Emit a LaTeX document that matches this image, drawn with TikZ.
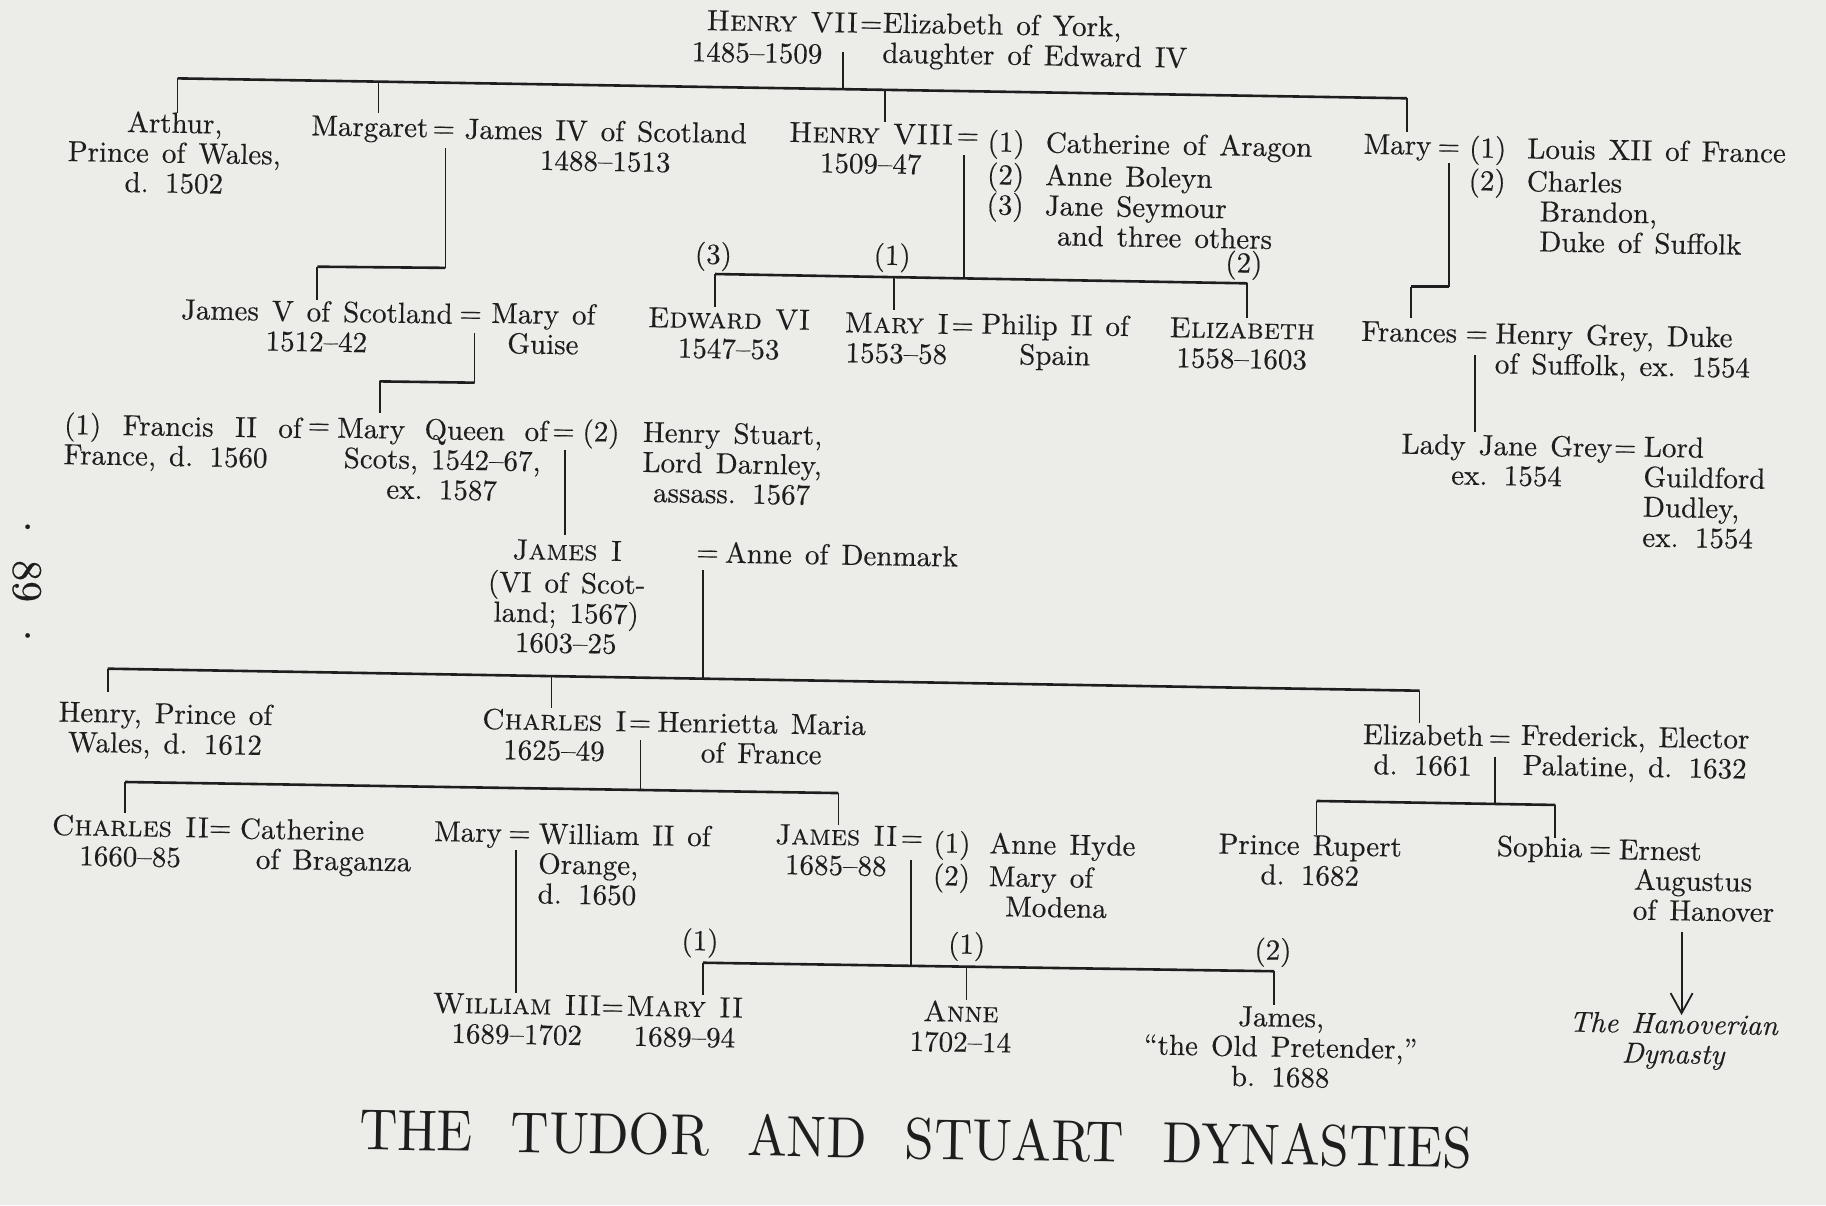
\documentclass[tikz,border=0pt]{standalone}
\usepackage{graphicx}
\usepackage{fontspec}
\setmainfont{lmroman10}[Extension=.otf, UprightFont=*-regular, ItalicFont=*-italic, SmallCapsFont=lmromancaps10-regular, FakeBold=0.35]
\newfontfamily\titlefont{lmroman10-regular}[Extension=.otf]
\usetikzlibrary{arrows.meta}
\definecolor{ink}{RGB}{30,30,30}
\definecolor{paper}{RGB}{236,236,233}
\newcommand\treefont{\fontsize{14.5}{15}\selectfont\spaceskip=0.45em plus 0.15em minus 0.1em\relax}
\newcommand\wnum[1]{\makebox[29.1pt][l]{#1}}
\newcommand\wnumb[1]{\makebox[28pt][l]{#1}}
\newcommand\jw[2]{\makebox[#1][s]{#2}}
\tikzset{
  txtbase/.style={inner sep=0pt, outer sep=0pt, font=\treefont, text=ink, rotate=-0.95},
  pc/.style={txtbase, anchor=north, align=center, yshift=10.5pt},
  pl/.style={txtbase, anchor=north west, align=left, yshift=10.5pt},
  sb/.style={txtbase, anchor=base},
  sr/.style={txtbase, anchor=base east},
  sl/.style={txtbase, anchor=base west},
  barline/.style={draw=ink, line width=1.3pt},
  vline/.style={draw=ink, line width=0.9pt},
}
\begin{document}
\begin{tikzpicture}[x=0.5822pt, y=-0.5822pt]
\fill[paper] (0,0) rectangle (1568,1034.76);
\useasboundingbox (0,0) rectangle (1568,1034.76);

% ---------------- Row 0
\node[sr] (h7) at (737,28) {\textsc{Henry VII}};
\node[sb] (eq0) at (748,28) {=};
\node[pl] (eoy) at (758,28) {\strut Elizabeth of York,\\daughter of Edward IV};
\node[sr] (h7d) at (706,54.5) {1485–1509};

% ---------------- Row 1
\node[pc] (arthur) at (150,114) {\strut Arthur,\\Prince of Wales,\\d. 1502};
\node[sb] (margaret) at (317.5,117) {Margaret};
\node[sb] (eq1) at (381,118) {=};
\node[pc] (james4) at (520,121) {\strut James IV of Scotland\\1488–1513};
\node[pc] (henry8) at (748,123) {\strut\textsc{Henry VIII}\\1509–47};
\node[sb] (eq2) at (831,124) {=};
\node[pl] (wives8) at (848,129.4) {\strut\wnum{(1)}Catherine of Aragon\\\wnum{(2)}Anne Boleyn\\\wnum{(3)}Jane Seymour\\\hspace*{35.5pt}and three others};
\node[sb] (maryT) at (1200,132.5) {Mary};
\node[sb] (eq3) at (1244,133.5) {=};
\node[pl] (husbM) at (1261.5,134.5) {\strut\wnum{(1)}Louis XII of France\\\wnum{(2)}Charles\\\hspace*{35.8pt}Brandon,\\\hspace*{35.8pt}Duke of Suffolk};
\node[sb] (l3) at (612.5,226.5) {(3)};
\node[sb] (l1) at (766,227.5) {(1)};
\node[sb] (l2) at (1068,234) {(2)};

% ---------------- Row 2
\node[pc] (james5) at (272,276) {\strut James V of Scotland\\1512–42};
\node[sb] (eq4) at (404,277) {=};
\node[pc] (guise) at (466.5,278) {\strut Mary of\\Guise};
\node[pc] (edward) at (626,282) {\strut\textsc{Edward VI}\\1547–53};
\node[pc] (mary1) at (770,286) {\strut\textsc{Mary I}\\1553–58};
\node[sb] (eq5) at (826.5,287) {=};
\node[pc] (philip) at (906,287.5) {\strut Philip II of\\Spain};
\node[pc] (eliz1) at (1066.5,290.5) {\strut\textsc{Elizabeth}\\1558–1603};
\node[sb] (frances) at (1210,293.4) {Frances};
\node[sb] (eq6) at (1268,294) {=};
\node[pl] (hgrey) at (1284,294.8) {\strut Henry Grey, Duke\\of Suffolk, ex. 1554};

% ---------------- Row 3
\node[pl] (francis) at (55,372.1) {\strut\jw{118.8pt}{(1) Francis II of}\\France, d. 1560};
\node[sb] (eq7) at (273.8,373) {=};
\node[pc] (maryqs) at (380,377.3) {\strut\jw{105.4pt}{Mary Queen of}\\Scots, 1542–67,\\ex. 1587};
\node[sb] (eq8) at (483.8,378) {=};
\node[sb] (l2d) at (516,379) {(2)};
\node[pc] (darnley) at (629,380.7) {\strut Henry Stuart,\\Lord Darnley,\\assass. 1567};
\node[pc] (ladyjane) at (1294,391) {\strut Lady Jane Grey\\ex. 1554};
\node[sb] (eq9) at (1395.5,392) {=};
\node[pl] (dudley) at (1411.5,392.1) {\strut Lord\\Guildford\\Dudley,\\ex. 1554};

% ---------------- Row 4
\node[pc] (james1) at (487,480.9) {\strut\textsc{James I}\\(VI of Scot-\\land; 1567)\\1603–25};
\node[sb] (eq10) at (607.5,482) {=};
\node[sl] (anneD) at (622.5,483.2) {Anne of Denmark};

% ---------------- Row 5
\node[pc] (henryPW) at (142,621.1) {\strut Henry, Prince of\\Wales, d. 1612};
\node[pc] (charles1) at (476,626.9) {\strut\textsc{Charles I}\\1625–49};
\node[sb] (eq11) at (549.5,628) {=};
\node[pc] (henrietta) at (654,629.7) {\strut Henrietta Maria\\of France};
\node[pc] (elizF) at (1222,639.7) {\strut Elizabeth\\d. 1661};
\node[sb] (eq12) at (1287.8,641) {=};
\node[pc] (frederick) at (1404,641.2) {\strut Frederick, Elector\\Palatine, d. 1632};

% ---------------- Row 6
\node[pc] (charles2) at (112,718) {\strut\textsc{Charles II}\\1660–85};
\node[sb] (eq13) at (189,718.5) {=};
\node[pl] (catherine) at (206,720) {\strut Catherine\\\hspace*{8.2pt}of Braganza};
\node[sb] (maryO) at (401.8,722.7) {Mary};
\node[sb] (eq14) at (446,723) {=};
\node[pl] (william2) at (462.5,724.2) {\strut William II of\\Orange,\\d. 1650};
\node[pc] (james2) at (718,725.6) {\strut\textsc{James II}\\1685–88};
\node[sb] (eq15) at (783,727) {=};
\node[pl] (wivesJ2) at (801.5,731.3) {\strut\wnumb{(1)}Anne Hyde\\\wnumb{(2)}Mary of\\\hspace*{36.4pt}Modena};
\node[pc] (rupert) at (1125,734.2) {\strut Prince Rupert\\d. 1682};
\node[sb] (sophia) at (1322,735.6) {Sophia};
\node[sb] (eq16) at (1374,736.5) {=};
\node[pl] (ernest) at (1390,737.9) {\strut Ernest\\\hspace*{7.9pt}Augustus\\\hspace*{7.5pt}of Hanover};
\node[sb] (l1a) at (601,816) {(1)};
\node[sb] (l1b) at (830,819) {(1)};
\node[sb] (l2b) at (1093,824) {(2)};

% ---------------- Row 7
\node[pc] (william3) at (444,870.7) {\strut\textsc{William III}\\1689–1702};
\node[sb] (eq17) at (526,872) {=};
\node[pc] (mary2) at (588,873) {\strut\textsc{Mary II}\\1689–94};
\node[pc] (anne) at (825,877.3) {\strut\textsc{Anne}\\1702–14};
\node[pc] (jamesOP) at (1100,881.6) {\strut James,\\“the Old Pretender,”\\b. 1688};
\node[pc, font=\treefont\itshape] (hanover) at (1437,887.3) {\strut The Hanoverian\\Dynasty};

% ---------------- Title and page number
\node[anchor=base, inner sep=0pt, text=ink, rotate=-0.95] (title) at (786,995)
  {\scalebox{0.91}[1]{\titlefont\fontsize{29}{29}\selectfont THE\hspace{21pt}TUDOR\hspace{21pt}AND\hspace{21pt}STUART\hspace{21pt}DYNASTIES}};
\node[inner sep=0pt, text=ink, rotate=-90, font=\fontsize{21}{21}\selectfont] (pnum) at (23,499) {·\hspace{8.5pt}89\hspace{8.5pt}·};

% ---------------- Connector points
\coordinate (h7a) at (723.6,44.4);
\coordinate (h7b) at (723.6,76.5);
\coordinate (b1L) at (152.5,67.3);
\coordinate (b1R) at (1208,84.4);
\coordinate (tArA) at (152.5,97.3);
\coordinate (tMgA) at (325,70.1);   \coordinate (tMgB) at (325,97.3);
\coordinate (tH8A) at (760,77.1);   \coordinate (tH8B) at (760,104.5);
\coordinate (tMtB) at (1208,113);
\coordinate (mg1) at (382.5,127.4); \coordinate (mg2) at (382.5,230);
\coordinate (mg3) at (272.5,229);   \coordinate (mg4) at (272.5,257.6);
\coordinate (h8a) at (828,133.1);   \coordinate (h8b) at (828,239);
\coordinate (b2L) at (614,235.3);   \coordinate (b2R) at (1071,243.3);
\coordinate (tEdB) at (614,263.3);
\coordinate (tM1A) at (767.5,238);  \coordinate (tM1B) at (767.5,266.2);
\coordinate (tElB) at (1071,273.4);
\coordinate (mt1) at (1244,140.3);  \coordinate (mt2) at (1244,246.2);
\coordinate (mt3) at (1211.5,246.2);\coordinate (mt4) at (1211.5,273.4);
\coordinate (jv1) at (407.5,286.2); \coordinate (jv2) at (407.5,328.6);
\coordinate (jv3) at (326,327.5);   \coordinate (jv4) at (326,355);
\coordinate (fr1) at (1266.5,304.9);\coordinate (fr2) at (1266.5,370.7);
\coordinate (qd1) at (485,386.4);   \coordinate (qd2) at (485,459.4);
\coordinate (ja1) at (604,489.5);   \coordinate (ja2) at (604,582.8);
\coordinate (b3L) at (92.5,574.2);  \coordinate (b3R) at (1219,593.1);
\coordinate (tHwB) at (92.5,593.9);
\coordinate (tC1A) at (473.5,580.6);\coordinate (tC1B) at (473.5,608.2);
\coordinate (tEfB) at (1219,621.1);
\coordinate (ch1) at (550,635.4);   \coordinate (ch2) at (550,678.4);
\coordinate (b4L) at (107.5,671.5); \coordinate (b4R) at (720,681);
\coordinate (tC2B) at (107.5,698.4);
\coordinate (tJ2B) at (720,708.4);
\coordinate (ef1) at (1284,649.8);  \coordinate (ef2) at (1284,690.3);
\coordinate (b5L) at (1130.5,687.8);\coordinate (b5R) at (1335.5,691.2);
\coordinate (tRuB) at (1130.5,717);
\coordinate (tSoB) at (1335.5,719.9);
\coordinate (mo1) at (443,729.9);   \coordinate (mo2) at (443,853);
\coordinate (j21) at (782.5,738.5); \coordinate (j22) at (782.5,829.4);
\coordinate (b6L) at (603.5,826.7);  \coordinate (b6R) at (1094,834);
\coordinate (tWmB) at (603.5,854.4);
\coordinate (tAnA) at (830,830.1);  \coordinate (tAnB) at (830,858.7);
\coordinate (tJoB) at (1094,863);
\coordinate (ar1) at (1444,800);    \coordinate (ar2) at (1444,871.6);

% ---------------- Connectors
\draw[vline] (h7a) -- (h7b);
\draw[barline] (b1L) -- (b1R);
\draw[vline] (b1L) -- (tArA);
\draw[vline] (tMgA) -- (tMgB);
\draw[vline] (tH8A) -- (tH8B);
\draw[vline] (b1R) -- (tMtB);

\draw[vline] (mg1) -- (mg2);
\draw[barline] (mg2) -- (mg3);
\draw[vline] (mg3) -- (mg4);

\draw[vline] (h8a) -- (h8b);
\draw[barline] (b2L) -- (b2R);
\draw[vline] (b2L) -- (tEdB);
\draw[vline] (tM1A) -- (tM1B);
\draw[vline] (b2R) -- (tElB);

\draw[vline] (mt1) -- (mt2);
\draw[barline] (mt2) -- (mt3);
\draw[vline] (mt3) -- (mt4);

\draw[vline] (jv1) -- (jv2);
\draw[barline] (jv2) -- (jv3);
\draw[vline] (jv3) -- (jv4);

\draw[vline] (fr1) -- (fr2);
\draw[vline] (qd1) -- (qd2);

\draw[vline] (ja1) -- (ja2);
\draw[barline] (b3L) -- (b3R);
\draw[vline] (b3L) -- (tHwB);
\draw[vline] (tC1A) -- (tC1B);
\draw[vline] (b3R) -- (tEfB);

\draw[vline] (ch1) -- (ch2);
\draw[barline] (b4L) -- (b4R);
\draw[vline] (b4L) -- (tC2B);
\draw[vline] (b4R) -- (tJ2B);

\draw[vline] (ef1) -- (ef2);
\draw[barline] (b5L) -- (b5R);
\draw[vline] (b5L) -- (tRuB);
\draw[vline] (b5R) -- (tSoB);

\draw[vline] (mo1) -- (mo2);

\draw[vline] (j21) -- (j22);
\draw[barline] (b6L) -- (b6R);
\draw[vline] (b6L) -- (tWmB);
\draw[vline] (tAnA) -- (tAnB);
\draw[vline] (b6R) -- (tJoB);

\draw[vline, -{Straight Barb[length=10pt, width=11pt]}] (ar1) -- (ar2);
\end{tikzpicture}
\end{document}
